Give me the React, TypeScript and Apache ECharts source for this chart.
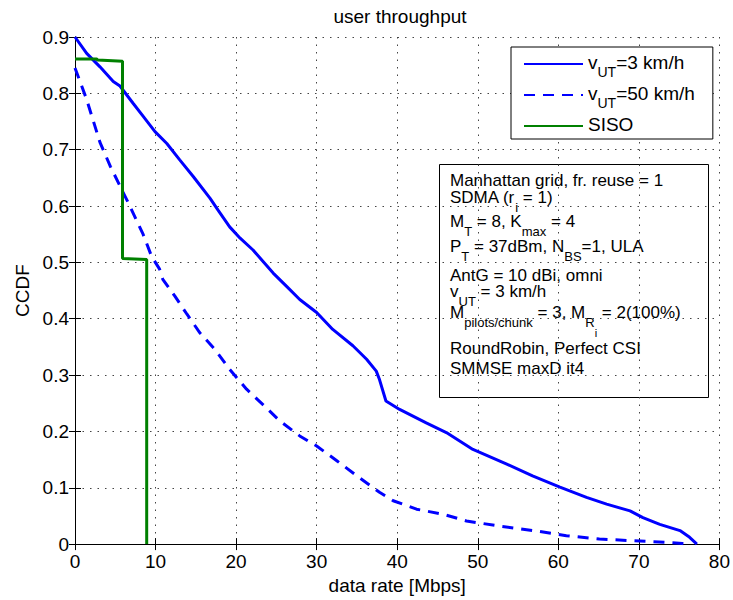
import React, { useEffect, useRef } from "react";
import * as echarts from "echarts";

// ---- data ----
const seriesNames = ["v_UT=3 km/h", "v_UT=50 km/h", "SISO"];

const ut3: [number, number][] = [
  [0, 0.9], [1.45, 0.871], [3.1, 0.847], [4.75, 0.821], [5.58, 0.813], [7.23, 0.782],
  [8.47, 0.759], [9.93, 0.732], [11.4, 0.711], [13.0, 0.682], [14.7, 0.652], [16.75, 0.614],
  [17.8, 0.592], [19.2, 0.563], [20.5, 0.543], [22.1, 0.522], [24.6, 0.481], [26.3, 0.457],
  [27.9, 0.434], [30.0, 0.411], [32.0, 0.381], [34.5, 0.352], [36.2, 0.328], [37.4, 0.307],
  [37.8, 0.292], [38.6, 0.254], [40.3, 0.239], [43.6, 0.215], [46.1, 0.198], [49.4, 0.168],
  [53.6, 0.142], [56.8, 0.121], [60.2, 0.101], [63.5, 0.083], [66.0, 0.071], [68.9, 0.059],
  [70.5, 0.047], [72.6, 0.035], [75.1, 0.024], [76.3, 0.012], [77.2, 0.0],
];

const ut50: [number, number][] = [
  [0, 0.845], [1.45, 0.789], [3.1, 0.713], [4.4, 0.67], [5.6, 0.635], [6.6, 0.606],
  [8.45, 0.55], [9.5, 0.511], [10.5, 0.488], [10.9, 0.47], [12.4, 0.44], [13.9, 0.408],
  [15.5, 0.375], [17.4, 0.345], [19.2, 0.31], [21.3, 0.275], [23.3, 0.248], [25.4, 0.219],
  [27.9, 0.192], [30.0, 0.174], [32.5, 0.148], [35.0, 0.121], [37.8, 0.092], [39.5, 0.077],
  [42.4, 0.062], [45.7, 0.053], [48.6, 0.041], [52.7, 0.032], [56.9, 0.024], [61.0, 0.015],
  [65.1, 0.009], [69.3, 0.006], [73.5, 0.003], [75.4, 0.001], [76.0, 0.0],
];

const siso: [number, number][] = [
  [0, 0.861], [2.7, 0.861], [2.8, 0.859], [5.9, 0.857], [5.9, 0.507], [8.9, 0.505], [8.9, 0],
];

const xRange = [0, 80];
const xStep = 10;
const yRange = [0, 0.9];
const yStep = 0.1;

const titleText = "user throughput";
const xName = "data rate [Mbps]";
const yName = "CCDF";

const legendLabels: Record<string, string> = {
  "v_UT=3 km/h": "{n|v}{s|UT}{n|=3 km/h}",
  "v_UT=50 km/h": "{n|v}{s|UT}{n|=50 km/h}",
  SISO: "{n|SISO}",
};

// annotation lines (rich text) with the vertical centre of their main text
const noteLines: string[] = [
  "{n|Manhattan grid, fr. reuse = 1}",
  "{n|SDMA (r}{s|i}{n| = 1)}",
  "{n|M}{s|T}{n| = 8, K}{s|max}{n| = 4}",
  "{n|P}{s|T}{n| = 37dBm, N}{s|BS}{n|=1, ULA}",
  "{n|AntG = 10 dBi, omni}",
  "{n|v}{s|UT}{n| = 3 km/h}",
  "{n|M}{s|pilots/chunk}{n| = 3, M}{s|R}{ss|i}{n| = 2(100%)}",
  "{n|RoundRobin, Perfect CSI}",
  "{n|SMMSE maxD it4}",
];
const noteCenters = [181.7, 199.3, 223.3, 248.3, 276.7, 293.3, 314, 350, 370];

const FONT = "'Liberation Sans', Arial, Helvetica, sans-serif";

export default function App() {
  const ref = useRef<HTMLDivElement>(null);

  useEffect(() => {
    if (!ref.current) return;
    const chart = echarts.init(ref.current, undefined, { renderer: "svg" });

    const gridLine = { show: true, lineStyle: { color: "#444", width: 1, type: [1.5, 6] as any } };
    const axisLineStyle = { show: true, lineStyle: { color: "#000", width: 1 } };
    const tick = { show: true, inside: true, length: 6, lineStyle: { color: "#000", width: 1 } };

    const noteRich = {
      n: { fontSize: 17, lineHeight: 20, verticalAlign: "top", color: "#000", fontFamily: FONT },
      s: { fontSize: 13, lineHeight: 14, padding: [12, 0, 0, 0], verticalAlign: "top", color: "#000", fontFamily: FONT },
      ss: { fontSize: 11, lineHeight: 12, padding: [23, 0, 0, 0], verticalAlign: "top", color: "#000", fontFamily: FONT },
    };

    const legendRich = {
      n: { fontSize: 19, lineHeight: 22, verticalAlign: "top", color: "#000", fontFamily: FONT },
      s: { fontSize: 14, lineHeight: 16, padding: [12, 0, 0, 0], verticalAlign: "top", color: "#000", fontFamily: FONT },
    };

    const option: any = {
      animation: false,
      backgroundColor: "#fff",
      textStyle: { fontFamily: FONT },
      title: {
        text: titleText,
        left: 395,
        top: 2,
        textAlign: "center",
        textStyle: { fontSize: 19, fontWeight: "normal", color: "#000", fontFamily: FONT },
      },
      grid: { left: 75, right: 13, top: 37, bottom: 55, containLabel: false },
      legend: {
        orient: "vertical",
        left: 511,
        top: 47,
        padding: [6, 18, 5, 12],
        itemGap: 5,
        itemWidth: 59,
        itemHeight: 14,
        borderColor: "#000",
        borderWidth: 1,
        backgroundColor: "#fff",
        data: seriesNames,
        itemStyle: { opacity: 0 },
        formatter: (name: string) => legendLabels[name] || name,
        textStyle: { fontSize: 19, color: "#000", fontFamily: FONT, rich: legendRich },
        z: 10,
      },
      xAxis: [
        {
          type: "value",
          min: xRange[0],
          max: xRange[1],
          interval: xStep,
          name: xName,
          nameLocation: "middle",
          nameGap: 30,
          nameTextStyle: { fontSize: 19, color: "#000", fontFamily: FONT },
          axisLine: axisLineStyle,
          axisTick: tick,
          axisLabel: { fontSize: 19, color: "#000", margin: 8, fontFamily: FONT },
          splitLine: gridLine,
        },
        {
          type: "value",
          position: "top",
          min: xRange[0],
          max: xRange[1],
          interval: xStep,
          axisLine: axisLineStyle,
          axisTick: tick,
          axisLabel: { show: false },
          splitLine: { show: false },
        },
      ],
      yAxis: [
        {
          type: "value",
          min: yRange[0],
          max: yRange[1],
          interval: yStep,
          name: yName,
          nameLocation: "middle",
          nameGap: 42,
          nameTextStyle: { fontSize: 19, color: "#000", fontFamily: FONT },
          axisLine: axisLineStyle,
          axisTick: tick,
          axisLabel: {
            fontSize: 19,
            color: "#000",
            margin: 6,
            fontFamily: FONT,
            formatter: (v: number) => (Math.abs(v) < 1e-9 ? "0" : v.toFixed(1)),
          },
          splitLine: gridLine,
        },
        {
          type: "value",
          position: "right",
          min: yRange[0],
          max: yRange[1],
          interval: yStep,
          axisLine: axisLineStyle,
          axisTick: tick,
          axisLabel: { show: false },
          splitLine: { show: false },
        },
      ],
      series: [
        {
          name: seriesNames[0],
          type: "line",
          data: ut3,
          symbol: "none",
          lineStyle: { color: "#0000ff", width: 3 },
          itemStyle: { color: "#0000ff" },
          z: 3,
        },
        {
          name: seriesNames[1],
          type: "line",
          data: ut50,
          symbol: "none",
          lineStyle: { color: "#0000ff", width: 3, type: [11, 8] },
          itemStyle: { color: "#0000ff" },
          z: 3,
        },
        {
          name: seriesNames[2],
          type: "line",
          data: siso,
          symbol: "none",
          lineStyle: { color: "#008000", width: 3 },
          itemStyle: { color: "#008000" },
          z: 4,
        },
      ],
      graphic: [
        {
          type: "group",
          z: 100,
          children: [
            {
              type: "rect",
              shape: { x: 439.5, y: 164.5, width: 269, height: 233 },
              style: { fill: "#fff", stroke: "#000", lineWidth: 1 },
            },
            ...noteLines.map((t, i) => ({
              type: "text",
              x: 450,
              y: noteCenters[i] - 10,
              style: { text: t, rich: noteRich, align: "left", verticalAlign: "top", fontFamily: FONT },
            })),
          ],
        },
      ],
    };

    chart.setOption(option);
    return () => chart.dispose();
  }, []);

  return (
    <div
      ref={ref}
      style={{ position: "fixed", left: 0, top: 0, width: 733, height: 600, background: "#fff" }}
    />
  );
}
